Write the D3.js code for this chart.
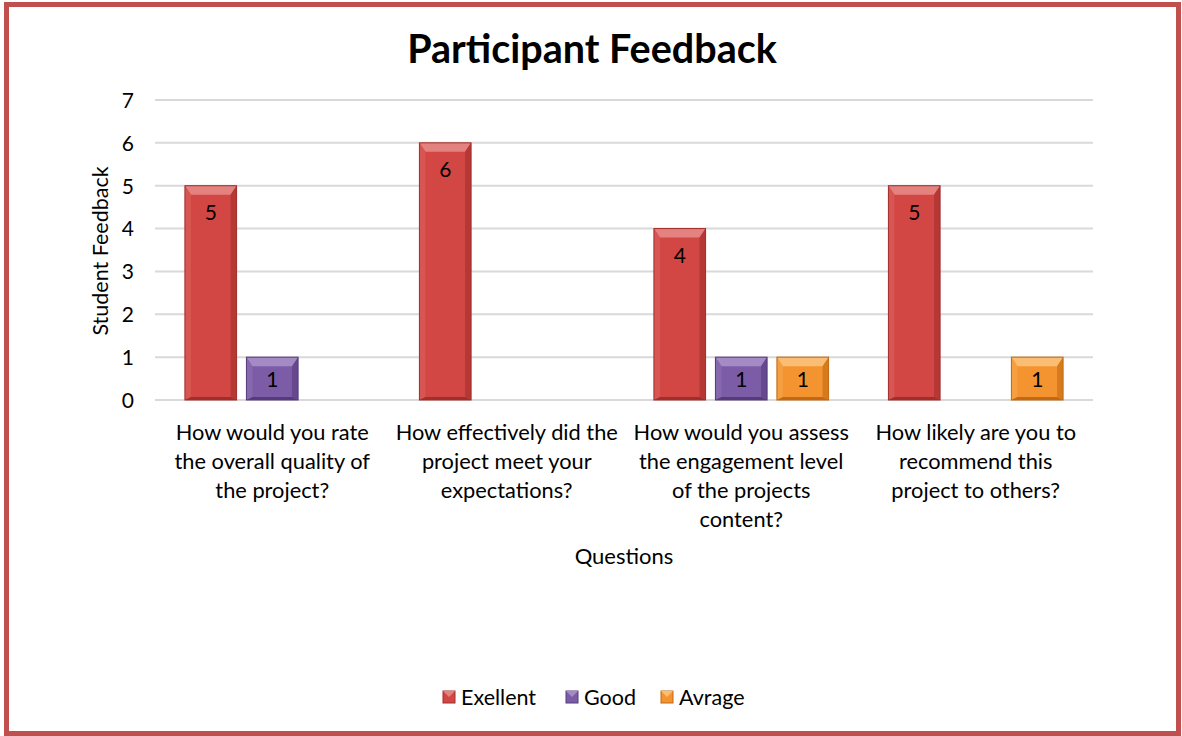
<!DOCTYPE html>
<html><head><meta charset="utf-8">
<script src="https://cdn.jsdelivr.net/npm/d3@7"></script>
<style>body{margin:0;background:#fff}svg{display:block}</style>
</head><body><svg id="c" width="1182" height="736"></svg>
<script>
const categories = [
  ["How would you rate","the overall quality of","the project?"],
  ["How effectively did the","project meet your","expectations?"],
  ["How would you assess","the engagement level","of the projects","content?"],
  ["How likely are you to","recommend this","project to others?"]
];
const seriesNames = ["Exellent","Good","Avrage"];
const excellent = [5,6,4,5];
const good = [1,null,1,null];
const average = [null,null,1,1];
const yTicks = [0,1,2,3,4,5,6,7];
const colors = {Exellent:["#D24643","#A12E2B","#E4827F"],Good:["#7C5CA6","#563B7C","#A48BC6"],Avrage:["#F39430","#C26912","#F9BE74"]};

const svg = d3.select("#c");
const font = "Lato, 'Open Sans', sans-serif";
svg.append("rect").attr("x",6.5).attr("y",4.5).attr("width",1172).attr("height",729)
  .attr("fill","#fff").attr("stroke","#C0504D").attr("stroke-width",5);

const L=155,R=1093,T=100,B=400;
const y = d3.scaleLinear().domain([0,7]).range([B,T]);
const x0 = d3.scaleBand().domain(d3.range(categories.length)).range([L,R]);
const x1 = d3.scaleBand().domain(seriesNames).range([25,x0.bandwidth()-25]).paddingInner(0.16).paddingOuter(0.08);

svg.append("g").selectAll("line").data(yTicks).join("line")
  .attr("x1",L).attr("x2",R).attr("y1",d=>y(d)).attr("y2",d=>y(d))
  .attr("stroke","#D9D9D9").attr("stroke-width",2);

const yAxis = d3.axisLeft(y).tickValues(yTicks).tickFormat(d3.format("d")).tickSize(0).tickPadding(0);
const ga = svg.append("g").attr("transform",`translate(134,0)`).call(yAxis);
ga.select(".domain").remove();
ga.selectAll("text").attr("font-family",font).attr("font-size",21).attr("fill","#000").attr("dy","0.35em");

svg.append("text").attr("x",592).attr("y",63).attr("text-anchor","middle")
  .attr("font-family",font).attr("font-weight","bold").attr("font-size",39.5).text("Participant Feedback");
svg.append("text").attr("transform","translate(108,251) rotate(-90)").attr("text-anchor","middle")
  .attr("font-family",font).attr("font-size",21.5).text("Student Feedback");
svg.append("text").attr("x",624).attr("y",564).attr("text-anchor","middle")
  .attr("font-family",font).attr("font-size",22).text("Questions");

categories.forEach((lines,i)=>{
  const t = svg.append("text").attr("text-anchor","middle").attr("font-family",font).attr("font-size",21.8);
  lines.forEach((ln,j)=>t.append("tspan").attr("x",x0(i)+x0.bandwidth()/2).attr("y",440+j*29).text(ln));
});

const data = [];
categories.forEach((c,i)=>{
  [excellent,good,average].forEach((arr,k)=>{
    if(arr[i]!=null) data.push({i,s:seriesNames[k],v:arr[i]});
  });
});
const bevT = 9, bevS = 6;
data.forEach(d=>{
  const bx = x0(d.i)+x1(d.s), bw = x1.bandwidth(), by = y(d.v), bh = B-by;
  const [mid,dark,light] = colors[d.s];
  const g = svg.append("g");
  g.append("rect").attr("x",bx).attr("y",by).attr("width",bw).attr("height",bh).attr("fill",mid);
  g.append("polygon").attr("points",[[bx,by],[bx+bw,by],[bx+bw-bevS,by+bevT],[bx+bevS,by+bevT]].join(" ")).attr("fill",light);
  g.append("polygon").attr("points",[[bx,by],[bx+bevS,by+bevT],[bx+bevS,B-3],[bx,B]].join(" ")).attr("fill",d3.interpolateRgb(mid,light)(0.25));
  g.append("polygon").attr("points",[[bx+bw,by],[bx+bw-bevS,by+bevT],[bx+bw-bevS,B-3],[bx+bw,B]].join(" ")).attr("fill",d3.interpolateRgb(mid,dark)(0.6));
  g.append("polygon").attr("points",[[bx,B],[bx+bevS,B-3],[bx+bw-bevS,B-3],[bx+bw,B]].join(" ")).attr("fill",dark);
  g.append("rect").attr("x",bx).attr("y",by).attr("width",bw).attr("height",bh).attr("fill","none").attr("stroke",dark).attr("stroke-width",1);
  g.append("text").attr("x",bx+bw/2).attr("y",d.v>1?by+27:by+(bh/2)+1).attr("dy","0.35em").attr("text-anchor","middle")
    .attr("font-family",font).attr("font-size",21).text(d.v);
});

const legX = [443,566,661];
seriesNames.forEach((s,k)=>{
  const [mid,dark,light]=colors[s];
  svg.append("rect").attr("x",legX[k]).attr("y",691).attr("width",12).attr("height",12).attr("fill",mid).attr("stroke",dark);
  svg.append("polygon").attr("points",[[legX[k],691],[legX[k]+12,691],[legX[k]+6,697]].join(" ")).attr("fill",light);
  svg.append("text").attr("x",legX[k]+18).attr("y",697).attr("dy","0.35em").attr("font-family",font).attr("font-size",21.5).text(s);
});
</script></body></html>
